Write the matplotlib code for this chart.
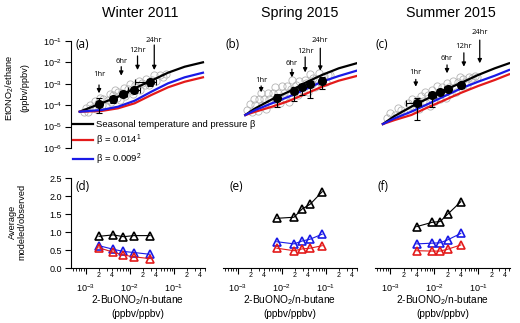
import numpy as np
import matplotlib
matplotlib.use("Agg")
import matplotlib.pyplot as plt
from matplotlib.ticker import LogLocator, FuncFormatter, NullLocator, FixedLocator

plt.rcParams['font.family'] = ['Liberation Sans', 'DejaVu Sans']
plt.rcParams['mathtext.default'] = 'regular'

# ---- data ----
titles = ["Winter 2011", "Spring 2015", "Summer 2015"]
top_tags = ["(a)", "(b)", "(c)"]
bot_tags = ["(d)", "(e)", "(f)"]

# model curves, x = 2-BuONO2/n-butane, y = EtONO2/ethane
a_curve_x = [7.3e-4, 2.25e-3, 5.4e-3, 1.29e-2, 3.09e-2, 7.4e-2, 0.177, 0.46]
a_black = [4.97e-5, 1.23e-4, 2.49e-4, 6.17e-4, 1.40e-3, 3.30e-3, 6.3e-3, 1.01e-2]
a_red = [4.97e-5, 5.36e-5, 7.16e-5, 1.23e-4, 3.0e-4, 6.85e-4, 1.25e-3, 2.01e-3]
a_blue = [4.97e-5, 5.97e-5, 8.5e-5, 1.62e-4, 4.28e-4, 1.05e-3, 2.01e-3, 3.30e-3]

b_curve_x = [1.48e-3, 2.51e-3, 6.0e-3, 1.44e-2, 3.43e-2, 8.2e-2, 0.197, 0.5]
b_black = [3.48e-5, 7.16e-5, 1.89e-4, 4.28e-4, 1.12e-3, 2.58e-3, 5.3e-3, 9.1e-3]
b_red = [3.48e-5, 4.97e-5, 8.5e-5, 1.57e-4, 3.33e-4, 7.31e-4, 1.40e-3, 2.31e-3]
b_blue = [3.48e-5, 5.97e-5, 1.23e-4, 2.49e-4, 5.53e-4, 1.25e-3, 2.31e-3, 4.09e-3]

c_curve_x = [6.8e-4, 1.26e-3, 3.0e-3, 7.2e-3, 1.73e-2, 4.12e-2, 9.9e-2, 0.237, 0.5]
c_black = [1.32e-5, 3.13e-5, 8.5e-5, 2.10e-4, 5.13e-4, 1.12e-3, 2.58e-3, 5.3e-3, 9.1e-3]
c_red = [1.32e-5, 2.03e-5, 3.48e-5, 7.98e-5, 1.75e-4, 3.84e-4, 7.89e-4, 1.51e-3, 2.78e-3]
c_blue = [1.32e-5, 2.44e-5, 4.97e-5, 1.14e-4, 2.69e-4, 6.17e-4, 1.25e-3, 2.39e-3, 4.42e-3]

# binned observations (black dots) with error ranges
a_obs_x = [2.0e-3, 4.2e-3, 7.2e-3, 1.25e-2, 2.9e-2]
a_obs_y = [1.15e-4, 1.9e-4, 3.3e-4, 5.1e-4, 1.17e-3]
a_obs_ylo = [4.5e-5, 1.3e-4, 2.3e-4, 3.6e-4, 8.0e-4]
a_obs_yhi = [2.1e-4, 2.7e-4, 4.6e-4, 7.2e-4, 1.7e-3]
a_obs_xlo = [1.7e-3, 3.6e-3, 6.0e-3, 9.0e-3, 1.3e-2]
a_obs_xhi = [2.4e-3, 4.9e-3, 8.5e-3, 1.7e-2, 4.0e-2]

b_obs_x = [7.7e-3, 1.9e-2, 2.9e-2, 4.4e-2, 8.3e-2]
b_obs_y = [2.1e-4, 4.6e-4, 6.9e-4, 9.8e-4, 1.4e-3]
b_obs_ylo = [8e-5, 1.6e-4, 3.0e-4, 2.2e-4, 6e-4]
b_obs_yhi = [3.5e-4, 7e-4, 1.0e-3, 1.4e-3, 2.0e-3]
b_obs_xlo = [6.5e-3, 1.6e-2, 2.5e-2, 3.8e-2, 7.0e-2]
b_obs_xhi = [9e-3, 2.2e-2, 3.4e-2, 5.1e-2, 9.8e-2]

c_obs_x = [4.0e-3, 9.0e-3, 1.35e-2, 2.0e-2, 4.0e-2]
c_obs_y = [1.3e-4, 3.0e-4, 4.3e-4, 5.7e-4, 8.7e-4]
c_obs_ylo = [2.0e-5, 8.5e-5, 3.2e-4, 4.2e-4, 6.5e-4]
c_obs_yhi = [2.1e-4, 4.2e-4, 5.8e-4, 7.6e-4, 1.15e-3]
c_obs_xlo = [2.3e-3, 7.5e-3, 1.15e-2, 1.7e-2, 3.4e-2]
c_obs_xhi = [5.1e-3, 1.07e-2, 1.6e-2, 2.4e-2, 4.8e-2]

# individual samples (grey open circles), log10 units
a_cloud_log10x = [-3.05, -3.00, -2.95, -2.90, -2.85, -2.80, -2.77, -2.72, -2.68, -2.64, -2.60,
                  -2.55, -2.50, -2.46, -2.42, -2.38, -2.34, -2.30, -2.26, -2.22, -2.18, -2.14,
                  -2.10, -2.05, -2.00, -1.96, -1.92, -1.88, -1.84, -1.80, -1.76, -1.72, -1.66,
                  -1.62, -1.56, -1.50, -1.45, -1.40, -1.32, -1.25, -1.18]
a_cloud_log10y = [-4.34, -4.14, -4.30, -4.01, -4.11, -3.82, -4.19, -3.90, -3.66, -3.98, -3.69,
                  -4.05, -3.75, -3.47, -3.83, -3.54, -3.31, -3.67, -3.39, -3.75, -3.42, -3.18,
                  -3.55, -3.25, -3.01, -3.32, -3.49, -3.05, -3.17, -2.88, -3.30, -2.96, -3.06,
                  -2.77, -3.07, -2.81, -2.58, -2.88, -2.61, -2.69, -2.53]
b_cloud_log10x = [-2.78, -2.72, -2.68, -2.64, -2.60, -2.55, -2.52, -2.48, -2.45, -2.40, -2.36,
                  -2.32, -2.28, -2.24, -2.20, -2.16, -2.12, -2.08, -2.04, -2.00, -1.96, -1.92,
                  -1.88, -1.84, -1.80, -1.76, -1.72, -1.68, -1.64, -1.60, -1.56, -1.52, -1.48,
                  -1.44, -1.40, -1.36, -1.32, -1.28, -1.24, -1.20, -1.15, -1.10, -1.05, -1.00,
                  -0.95, -0.90]
b_cloud_log10y = [-4.22, -3.93, -4.30, -3.71, -3.98, -4.29, -3.72, -3.44, -4.01, -3.73, -4.19,
                  -3.41, -3.73, -3.95, -3.42, -3.14, -3.71, -3.43, -3.89, -3.11, -3.43, -3.65,
                  -3.12, -3.84, -3.26, -2.82, -3.44, -3.06, -3.53, -2.85, -3.17, -3.34, -2.80,
                  -2.97, -3.39, -2.56, -3.03, -2.75, -3.17, -2.79, -2.50, -2.91, -2.62, -2.93,
                  -2.59, -2.60]
c_cloud_log10x = [-3.08, -3.00, -2.90, -2.82, -2.75, -2.68, -2.60, -2.55, -2.50, -2.45, -2.40,
                  -2.35, -2.30, -2.26, -2.22, -2.18, -2.14, -2.10, -2.06, -2.02, -1.98, -1.94,
                  -1.90, -1.86, -1.82, -1.78, -1.74, -1.70, -1.66, -1.62, -1.58, -1.54, -1.50,
                  -1.46, -1.42, -1.38, -1.34, -1.30, -1.25, -1.20, -1.15, -1.08, -1.02]
c_cloud_log10y = [-4.58, -4.36, -4.47, -4.15, -4.24, -4.37, -3.90, -4.06, -3.71, -4.12, -3.77,
                  -4.18, -3.58, -3.79, -3.36, -3.92, -3.54, -4.05, -3.31, -3.53, -3.79, -3.11,
                  -3.37, -3.73, -3.15, -3.36, -3.68, -2.94, -3.15, -3.42, -2.88, -3.15, -3.36,
                  -2.92, -2.69, -3.10, -2.77, -2.93, -3.04, -2.69, -2.75, -2.63, -2.68]

# photochemical age markers
hr_labels = ["1hr", "6hr", "12hr", "24hr"]
a_hr_x = [2.0e-3, 6.4e-3, 1.5e-2, 3.6e-2]
a_hr_text = [2.6e-3, 1.1e-2, 3.5e-2, 1.1e-1]
a_hr_top = [8.8e-4, 6.3e-3, 2.0e-2, 6.5e-2]
a_hr_tip = [3.6e-4, 2.4e-3, 4.4e-3, 4.4e-3]
b_hr_x = [3.4e-3, 1.7e-2, 3.4e-2, 7.5e-2]
b_hr_text = [1.5e-3, 9.1e-3, 3.2e-2, 1.0e-1]
b_hr_top = [7.9e-4, 4.8e-3, 1.8e-2, 4.6e-2]
b_hr_tip = [4.0e-4, 2.0e-3, 3.4e-3, 4.1e-3]
c_hr_x = [3.8e-3, 1.95e-2, 4.7e-2, 1.08e-1]
c_hr_text = [3.4e-3, 1.56e-2, 5.4e-2, 2.44e-1]
c_hr_top = [1.6e-3, 7.6e-3, 2.8e-2, 1.1e-1]
c_hr_tip = [7.3e-4, 3.1e-3, 6.3e-3, 9.1e-3]

# average modeled/observed ratios
d_black = [0.88, 0.92, 0.87, 0.90, 0.90]
d_blue = [0.62, 0.52, 0.46, 0.43, 0.38]
d_red = [0.56, 0.44, 0.36, 0.31, 0.26]
e_black = [1.38, 1.41, 1.64, 1.77, 2.12]
e_blue = [0.73, 0.67, 0.75, 0.80, 0.94]
e_red = [0.55, 0.48, 0.53, 0.55, 0.62]
f_black = [1.15, 1.27, 1.29, 1.49, 1.84]
f_blue = [0.67, 0.69, 0.70, 0.78, 0.96]
f_red = [0.48, 0.47, 0.47, 0.52, 0.64]

legend_labels = ["Seasonal temperature and pressure β", "β = 0.014$^{1}$", "β = 0.009$^{2}$"]

# ---- layout ----
W, H = 520, 323
BLK, BLUE, RED, GREY = "black", "#1a1ae6", "#e31a1a", "#b4b4b4"
XLIM = (4.5e-4, 5.2e-1)
col_left = [70.5, 222.5, 375]
col_w = 134.8

fig = plt.figure(figsize=(W / 100, H / 100), dpi=100)


def add_ax(left, top, width, height):
    return fig.add_axes([left / W, 1 - (top + height) / H, width / W, height / H])


def minor_fmt(v, pos):
    m = int(round(v / 10 ** np.floor(np.log10(v) + 1e-9)))
    if m in (2, 4) and v >= 1e-3:
        return str(m)
    return ""


tops = [
    (a_curve_x, a_black, a_red, a_blue, a_obs_x, a_obs_y, a_obs_ylo, a_obs_yhi, a_obs_xlo, a_obs_xhi,
     a_cloud_log10x, a_cloud_log10y, a_hr_x, a_hr_text, a_hr_top, a_hr_tip),
    (b_curve_x, b_black, b_red, b_blue, b_obs_x, b_obs_y, b_obs_ylo, b_obs_yhi, b_obs_xlo, b_obs_xhi,
     b_cloud_log10x, b_cloud_log10y, b_hr_x, b_hr_text, b_hr_top, b_hr_tip),
    (c_curve_x, c_black, c_red, c_blue, c_obs_x, c_obs_y, c_obs_ylo, c_obs_yhi, c_obs_xlo, c_obs_xhi,
     c_cloud_log10x, c_cloud_log10y, c_hr_x, c_hr_text, c_hr_top, c_hr_tip),
]
bots = [(d_black, d_blue, d_red), (e_black, e_blue, e_red), (f_black, f_blue, f_red)]

legend_handles = None
for i in range(3):
    (cx, cb, cr, cbl, ox, oy, oylo, oyhi, oxlo, oxhi, clx, cly, hx, ht, htop, htip) = tops[i]
    ax = add_ax(col_left[i], 41, col_w, 107)
    ax.set_xscale("log")
    ax.set_yscale("log")
    ax.set_xlim(*XLIM)
    ax.set_ylim(1e-6, 1e-1)
    ax.plot(10.0 ** np.array(clx), 10.0 ** np.array(cly), "o", mfc="none", mec=GREY,
            ms=5.2, mew=0.6, zorder=1)
    lb, = ax.plot(cx, cb, color=BLK, lw=1.6, zorder=3)
    lr, = ax.plot(cx, cr, color=RED, lw=1.6, zorder=3)
    lbl, = ax.plot(cx, cbl, color=BLUE, lw=1.6, zorder=3)
    if i == 0:
        legend_handles = [lb, lr, lbl]
    ox, oy = np.array(ox), np.array(oy)
    yerr = [oy - np.array(oylo), np.array(oyhi) - oy]
    xerr = [ox - np.array(oxlo), np.array(oxhi) - ox]
    ax.errorbar(ox, oy, yerr=yerr, xerr=xerr, fmt="o", color=BLK, ms=5.5, elinewidth=0.8,
                capsize=2, capthick=0.8, zorder=4)
    for lab, x, ty, t0, t1 in zip(hr_labels, hx, ht, htop, htip):
        ax.annotate("", xy=(x, t1), xytext=(x, t0), annotation_clip=False,
                    arrowprops=dict(arrowstyle="-|>", color=BLK, lw=0.9, mutation_scale=6,
                                    shrinkA=0, shrinkB=0))
        ax.text(x, ty, lab, ha="center", va="center", fontsize=5.5, family="Open Sans",
                clip_on=False)
    for s in ["top", "right", "bottom"]:
        ax.spines[s].set_visible(False)
    ax.xaxis.set_visible(False)
    ax.patch.set_alpha(0)
    if i == 0:
        ax.yaxis.set_major_locator(FixedLocator([1e-6, 1e-5, 1e-4, 1e-3, 1e-2, 1e-1]))
        ax.yaxis.set_minor_locator(NullLocator())
        ax.tick_params(axis="y", which="major", length=4, width=0.8, labelsize=6.5, pad=2)
        ax.spines["left"].set_linewidth(0.8)
    else:
        ax.spines["left"].set_visible(False)
        ax.yaxis.set_visible(False)

    # bottom row
    bk, bb, br = bots[i]
    bx = tops[i][4]
    axb = add_ax(col_left[i], 178, col_w, 90)
    axb.set_xscale("log")
    axb.set_xlim(*XLIM)
    axb.set_ylim(0, 2.5)
    axb.plot(bx, bk, "-^", color=BLK, mfc="none", ms=6, mew=1.2, lw=0.8)
    axb.plot(bx, bb, "-^", color=BLUE, mfc="none", ms=6, mew=1.2, lw=0.8)
    axb.plot(bx, br, "-^", color=RED, mfc="none", ms=6, mew=1.2, lw=0.8)
    for s in ["top", "right"]:
        axb.spines[s].set_visible(False)
    axb.spines["bottom"].set_linewidth(0.8)
    axb.xaxis.set_major_locator(FixedLocator([1e-3, 1e-2, 1e-1]))
    axb.xaxis.set_minor_locator(LogLocator(base=10, subs=np.arange(2, 10), numticks=20))
    axb.xaxis.set_minor_formatter(FuncFormatter(minor_fmt))
    axb.tick_params(axis="x", which="major", length=4, width=0.8, labelsize=6.5, pad=6)
    axb.tick_params(axis="x", which="minor", length=2, width=0.6, labelsize=5, pad=1)
    axb.patch.set_alpha(0)
    xc = (col_left[i] + col_w / 2) / W
    fig.text(xc, 1 - 300 / H, "2-BuONO$_2$/n-butane", ha="center", va="center", fontsize=7.3)
    fig.text(xc, 1 - 314 / H, "(ppbv/ppbv)", ha="center", va="center", fontsize=7.3)
    if i == 0:
        axb.set_yticks([0.0, 0.5, 1.0, 1.5, 2.0, 2.5])
        axb.set_yticklabels(["0.0", "0.5", "1.0", "1.5", "2.0", "2.5"])
        axb.tick_params(axis="y", length=4, width=0.8, labelsize=6.5, pad=2)
        axb.spines["left"].set_linewidth(0.8)
    else:
        axb.spines["left"].set_visible(False)
        axb.tick_params(axis="y", left=False, labelleft=False)

# titles and panel tags
title_x = [140, 300, 451]
for t, x in zip(titles, title_x):
    fig.text(x / W, 1 - 13 / H, t, ha="center", va="center", fontsize=10.3)
tag_x = [75, 225, 375]
for t, x in zip(top_tags, tag_x):
    fig.text(x / W, 1 - 44 / H, t, ha="left", va="center", fontsize=8.5, family="Open Sans")
tagb_x = [75, 230, 377]
for t, x in zip(bot_tags, tagb_x):
    fig.text(x / W, 1 - 186 / H, t, ha="left", va="center", fontsize=8.5, family="Open Sans")

# y labels
fig.text(10 / W, 1 - 88 / H, "EtONO$_2$/ethane", rotation=90, ha="center", va="center",
         fontsize=6.7)
fig.text(25 / W, 1 - 88 / H, "(ppbv/ppbv)", rotation=90, ha="center", va="center", fontsize=6.7)
fig.text(12 / W, 1 - 222 / H, "Average", rotation=90, ha="center", va="center", fontsize=6.7)
fig.text(22 / W, 1 - 222 / H, "modeled/observed", rotation=90, ha="center", va="center",
         fontsize=6.7)

fig.legend(legend_handles, legend_labels, loc="upper left",
           bbox_to_anchor=(73 / W, 1 - 120 / H), frameon=False, fontsize=6.8,
           handlelength=2.1, handletextpad=0.3, labelspacing=0.4, borderaxespad=0,
           borderpad=0)

fig.savefig("out.png", dpi=100)
